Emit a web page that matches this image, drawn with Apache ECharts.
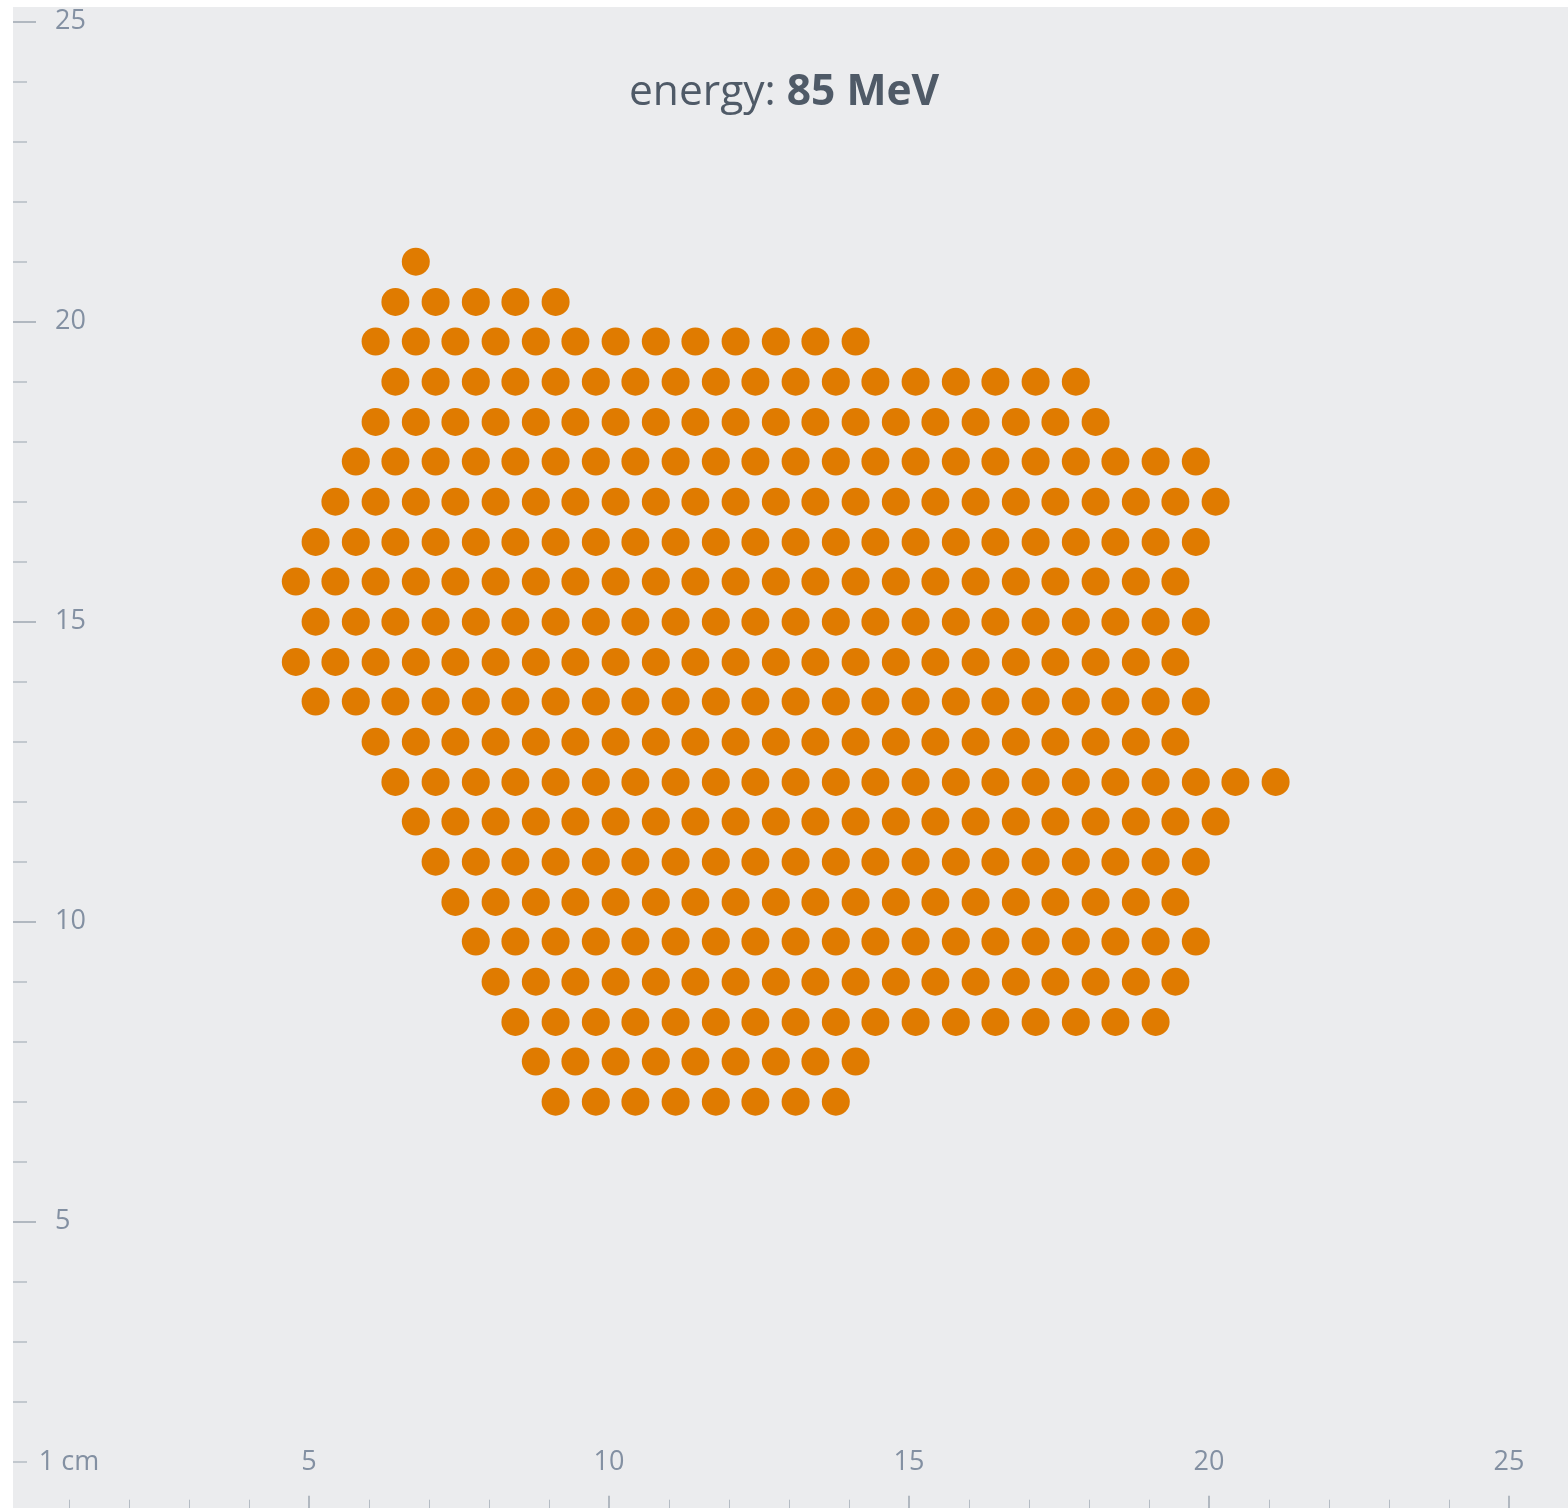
<!DOCTYPE html>
<html>
<head>
<meta charset="utf-8">
<script src="https://cdn.jsdelivr.net/npm/echarts@6/dist/echarts.min.js"></script>
<style>
html,body{margin:0;padding:0;background:#ffffff;}
#chart{width:1568px;height:1508px;}
</style>
</head>
<body>
<div id="chart"></div>
<script>
// Title
const titleLabel = 'energy: ';
const titleValue = '85 MeV';

// Tick labels
const xLabelValues = [1, 5, 10, 15, 20, 25];
const yLabelValues = [5, 10, 15, 20, 25];
const majorTickValues = [5, 10, 15, 20, 25];

// Row y positions (cm), top to bottom
const rowY = [21, 20.33, 19.67, 19, 18.33, 17.67, 17, 16.33, 15.67, 15, 14.33,
              13.67, 13, 12.33, 11.67, 11, 10.33, 9.67, 9, 8.33, 7.67, 7];

// Spot x positions (cm) for each row
const row01 = [6.78];
const row02 = [6.44, 7.11, 7.78, 8.44, 9.11];
const row03 = [6.11, 6.78, 7.44, 8.11, 8.78, 9.44, 10.11, 10.78, 11.44, 12.11, 12.78, 13.44, 14.11];
const row04 = [6.44, 7.11, 7.78, 8.44, 9.11, 9.78, 10.44, 11.11, 11.78, 12.44, 13.11, 13.78, 14.44, 15.11, 15.78, 16.44, 17.11, 17.78];
const row05 = [6.11, 6.78, 7.44, 8.11, 8.78, 9.44, 10.11, 10.78, 11.44, 12.11, 12.78, 13.44, 14.11, 14.78, 15.44, 16.11, 16.78, 17.44, 18.11];
const row06 = [5.78, 6.44, 7.11, 7.78, 8.44, 9.11, 9.78, 10.44, 11.11, 11.78, 12.44, 13.11, 13.78, 14.44, 15.11, 15.78, 16.44, 17.11, 17.78, 18.44, 19.11, 19.78];
const row07 = [5.44, 6.11, 6.78, 7.44, 8.11, 8.78, 9.44, 10.11, 10.78, 11.44, 12.11, 12.78, 13.44, 14.11, 14.78, 15.44, 16.11, 16.78, 17.44, 18.11, 18.78, 19.44, 20.11];
const row08 = [5.11, 5.78, 6.44, 7.11, 7.78, 8.44, 9.11, 9.78, 10.44, 11.11, 11.78, 12.44, 13.11, 13.78, 14.44, 15.11, 15.78, 16.44, 17.11, 17.78, 18.44, 19.11, 19.78];
const row09 = [4.78, 5.44, 6.11, 6.78, 7.44, 8.11, 8.78, 9.44, 10.11, 10.78, 11.44, 12.11, 12.78, 13.44, 14.11, 14.78, 15.44, 16.11, 16.78, 17.44, 18.11, 18.78, 19.44];
const row10 = [5.11, 5.78, 6.44, 7.11, 7.78, 8.44, 9.11, 9.78, 10.44, 11.11, 11.78, 12.44, 13.11, 13.78, 14.44, 15.11, 15.78, 16.44, 17.11, 17.78, 18.44, 19.11, 19.78];
const row11 = [4.78, 5.44, 6.11, 6.78, 7.44, 8.11, 8.78, 9.44, 10.11, 10.78, 11.44, 12.11, 12.78, 13.44, 14.11, 14.78, 15.44, 16.11, 16.78, 17.44, 18.11, 18.78, 19.44];
const row12 = [5.11, 5.78, 6.44, 7.11, 7.78, 8.44, 9.11, 9.78, 10.44, 11.11, 11.78, 12.44, 13.11, 13.78, 14.44, 15.11, 15.78, 16.44, 17.11, 17.78, 18.44, 19.11, 19.78];
const row13 = [6.11, 6.78, 7.44, 8.11, 8.78, 9.44, 10.11, 10.78, 11.44, 12.11, 12.78, 13.44, 14.11, 14.78, 15.44, 16.11, 16.78, 17.44, 18.11, 18.78, 19.44];
const row14 = [6.44, 7.11, 7.78, 8.44, 9.11, 9.78, 10.44, 11.11, 11.78, 12.44, 13.11, 13.78, 14.44, 15.11, 15.78, 16.44, 17.11, 17.78, 18.44, 19.11, 19.78, 20.44, 21.11];
const row15 = [6.78, 7.44, 8.11, 8.78, 9.44, 10.11, 10.78, 11.44, 12.11, 12.78, 13.44, 14.11, 14.78, 15.44, 16.11, 16.78, 17.44, 18.11, 18.78, 19.44, 20.11];
const row16 = [7.11, 7.78, 8.44, 9.11, 9.78, 10.44, 11.11, 11.78, 12.44, 13.11, 13.78, 14.44, 15.11, 15.78, 16.44, 17.11, 17.78, 18.44, 19.11, 19.78];
const row17 = [7.44, 8.11, 8.78, 9.44, 10.11, 10.78, 11.44, 12.11, 12.78, 13.44, 14.11, 14.78, 15.44, 16.11, 16.78, 17.44, 18.11, 18.78, 19.44];
const row18 = [7.78, 8.44, 9.11, 9.78, 10.44, 11.11, 11.78, 12.44, 13.11, 13.78, 14.44, 15.11, 15.78, 16.44, 17.11, 17.78, 18.44, 19.11, 19.78];
const row19 = [8.11, 8.78, 9.44, 10.11, 10.78, 11.44, 12.11, 12.78, 13.44, 14.11, 14.78, 15.44, 16.11, 16.78, 17.44, 18.11, 18.78, 19.44];
const row20 = [8.44, 9.11, 9.78, 10.44, 11.11, 11.78, 12.44, 13.11, 13.78, 14.44, 15.11, 15.78, 16.44, 17.11, 17.78, 18.44, 19.11];
const row21 = [8.78, 9.44, 10.11, 10.78, 11.44, 12.11, 12.78, 13.44, 14.11];
const row22 = [9.11, 9.78, 10.44, 11.11, 11.78, 12.44, 13.11, 13.78];

const rowXs = [row01, row02, row03, row04, row05, row06, row07, row08, row09, row10, row11,
               row12, row13, row14, row15, row16, row17, row18, row19, row20, row21, row22];

const spots = [];
rowXs.forEach(function (xs, i) {
  xs.forEach(function (x) { spots.push([x, rowY[i]]); });
});

const FONT = '"Open Sans", "Noto Sans", sans-serif';
const LABEL_COLOR = '#8390a2';
const TICK_COLOR = '#9ea7b1';
const MINOR_COLOR = '#b5bcc4';

const chart = echarts.init(document.getElementById('chart'), null, {renderer: 'canvas'});
chart.setOption({
  animation: false,
  backgroundColor: '#ffffff',
  graphic: [{
    type: 'rect',
    z: -10,
    silent: true,
    shape: {x: 13, y: 7, width: 1555, height: 1501},
    style: {fill: '#ebecee'}
  }],
  title: {
    text: '{a|' + titleLabel + '}{b|' + titleValue + '}',
    left: 624,
    top: 61,
    textStyle: {
      rich: {
        a: {fontSize: 42.5, fontFamily: FONT, color: '#4f5a67', fontWeight: 'normal', lineHeight: 54},
        b: {fontSize: 42.5, fontFamily: FONT, color: '#4f5a67', fontWeight: 'bold', lineHeight: 54}
      }
    }
  },
  grid: {left: 9, right: -241, top: 21.7, bottom: -13.7, containLabel: false, outerBoundsMode: 'none'},
  xAxis: {
    type: 'value',
    min: 0, max: 30, interval: 5,
    position: 'bottom',
    axisLine: {show: false},
    splitLine: {show: false},
    axisTick: {show: true, inside: true, length: 26, customValues: majorTickValues,
               lineStyle: {color: TICK_COLOR, width: 1.5}},
    minorTick: {show: true, splitNumber: 5, length: 22, lineStyle: {color: MINOR_COLOR, width: 1}},
    axisLabel: {
      inside: true, margin: 46,
      customValues: xLabelValues,
      formatter: function (v) { return v === 1 ? '1 cm' : String(v); },
      fontSize: 27, fontFamily: FONT, color: LABEL_COLOR
    }
  },
  yAxis: {
    type: 'value',
    min: 0, max: 25, interval: 5,
    position: 'left',
    offset: -4,
    axisLine: {show: false},
    splitLine: {show: false},
    axisTick: {show: true, inside: true, length: 23, customValues: majorTickValues,
               lineStyle: {color: TICK_COLOR, width: 1.5}},
    minorTick: {show: true, splitNumber: 5, length: 14, lineStyle: {color: MINOR_COLOR, width: 1.5}},
    axisLabel: {
      inside: true, margin: 42,
      customValues: yLabelValues,
      fontSize: 27, fontFamily: FONT, color: LABEL_COLOR
    }
  },
  series: [{
    type: 'scatter',
    data: spots,
    symbol: 'circle',
    symbolSize: 28,
    itemStyle: {color: '#e07b00', opacity: 1},
    emphasis: {disabled: true}
  }]
});
</script>
</body>
</html>
